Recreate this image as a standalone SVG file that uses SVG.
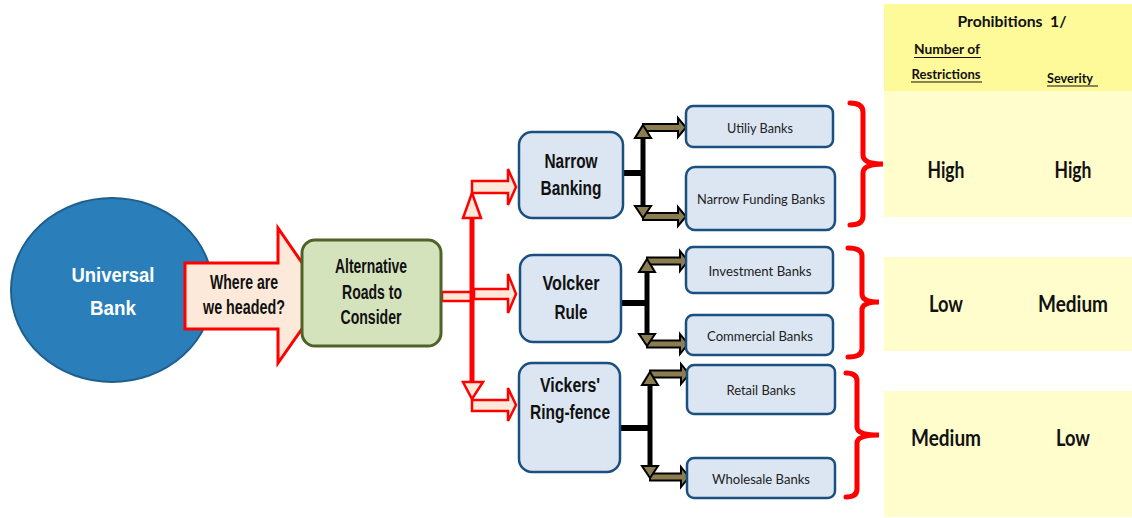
<svg xmlns="http://www.w3.org/2000/svg" width="1132" height="518" viewBox="0 0 1132 518">
<style>
.bx{fill:#DBE6F2;stroke:#1B4F80;stroke-width:2.5}
.nt{font-family:"Liberation Sans Narrow","Liberation Sans",Arial,sans-serif;font-weight:bold;font-size:20px;fill:#111;text-anchor:middle}
.st{font-family:Lato,"Open Sans",sans-serif;font-size:14px;fill:#222;text-anchor:middle}
.tt{font-family:Lato,"Open Sans",sans-serif;font-weight:bold;fill:#111;text-anchor:middle}
.rd{fill:#FDE9D9;stroke:#FF0000;stroke-width:2.5;stroke-linejoin:miter}
.bk{fill:#8B7D4F;stroke:#000;stroke-width:2;stroke-linejoin:miter}
.br{fill:none;stroke:#FF0000;stroke-width:5;stroke-linecap:round}
</style>
<rect width="1132" height="518" fill="#fff"/>

<g id="table">
<rect x="884" y="4" width="248" height="87" fill="#FFFA99"/>
<rect x="884" y="91" width="248" height="126" fill="#FFFDCC"/>
<rect x="884" y="257" width="248" height="94" fill="#FFFDCC"/>
<rect x="884" y="391" width="248" height="126" fill="#FFFDCC"/>
<text class="tt" x="1012" y="27" font-size="15" textLength="109" lengthAdjust="spacingAndGlyphs" xml:space="preserve">Prohibitions  1/</text>
<text class="tt" x="947" y="54" font-size="13" textLength="66" lengthAdjust="spacingAndGlyphs">Number of</text>
<line x1="914" y1="57.5" x2="981" y2="57.5" stroke="#111" stroke-width="1.2"/>
<text class="tt" x="946" y="79" font-size="13" textLength="69" lengthAdjust="spacingAndGlyphs">Restrictions</text>
<line x1="911" y1="82" x2="982" y2="82" stroke="#111" stroke-width="1.2"/>
<text class="tt" x="1070" y="83" font-size="13" textLength="46" lengthAdjust="spacingAndGlyphs">Severity</text>
<line x1="1047" y1="86" x2="1098" y2="86" stroke="#111" stroke-width="1.2"/>
<text class="tt" x="946" y="178" font-size="22" textLength="37" lengthAdjust="spacingAndGlyphs">High</text>
<text class="tt" x="1073" y="178" font-size="22" textLength="37" lengthAdjust="spacingAndGlyphs">High</text>
<text class="tt" x="946" y="312" font-size="22" textLength="34" lengthAdjust="spacingAndGlyphs">Low</text>
<text class="tt" x="1073" y="312" font-size="22" textLength="70" lengthAdjust="spacingAndGlyphs">Medium</text>
<text class="tt" x="946" y="446" font-size="22" textLength="70" lengthAdjust="spacingAndGlyphs">Medium</text>
<text class="tt" x="1073" y="446" font-size="22" textLength="34" lengthAdjust="spacingAndGlyphs">Low</text>
</g>

<g id="braces">
<path class="br" d="M850,103 Q863,103 863,112 V155 Q863,164 883,164 Q863,164 863,173 V216 Q863,225 850,225"/>
<path class="br" d="M848,248 Q862,248 862,256 V294 Q862,302 879,302 Q862,302 862,310 V349 Q862,357 848,357"/>
<path class="br" d="M846,373 Q857,373 857,381 V427 Q857,435 879,435 Q857,435 857,443 V489 Q857,497 846,497"/>
</g>

<g id="connectors">
<rect x="442" y="292" width="30" height="9" fill="#FDE9D9" stroke="#FF0000" stroke-width="2.5"/>
<rect x="469.5" y="212" width="5" height="176" fill="#FF0000"/>
<polygon class="rd" points="472,193 481,218 463,218"/>
<polygon class="rd" points="463,382 483,382 472,399"/>
<polygon class="rd" points="472,181 508,181 508,169 516,187 508,205 508,193 472,193"/>
<polygon class="rd" points="474,289 508,289 508,274 516,294 508,313 508,299 474,299"/>
<polygon class="rd" points="472,400 508,400 508,388 516,405 508,421 508,411 472,411"/>

<line x1="623" y1="173" x2="643" y2="173" stroke="#000" stroke-width="6"/>
<line x1="643" y1="134" x2="643" y2="212" stroke="#000" stroke-width="5"/>
<polygon class="bk" points="643,124 678,124 678,118 686,127.5 678,137 678,131 643,131"/>
<polygon class="bk" points="643,213 678,213 678,207 686,216.5 678,226 678,220 643,220"/>
<polygon class="bk" points="643,125 651,138 635,138"/>
<polygon class="bk" points="635,206 651,206 643,218"/>

<line x1="621" y1="303" x2="647" y2="303" stroke="#000" stroke-width="6"/>
<line x1="647" y1="268" x2="647" y2="340" stroke="#000" stroke-width="5"/>
<polygon class="bk" points="647,257.5 680,257.5 680,251 688,261 680,271 680,264.5 647,264.5"/>
<polygon class="bk" points="647,340.5 680,340.5 680,334 688,344 680,354 680,347.5 647,347.5"/>
<polygon class="bk" points="647,259 655,272 639,272"/>
<polygon class="bk" points="639,334 655,334 647,346"/>

<line x1="620" y1="428" x2="650" y2="428" stroke="#000" stroke-width="6"/>
<line x1="650" y1="382" x2="650" y2="472" stroke="#000" stroke-width="5"/>
<polygon class="bk" points="650,370.5 681,370.5 681,364 689,374 681,384 681,377.5 650,377.5"/>
<polygon class="bk" points="650,473.5 681,473.5 681,467 689,477 681,487 681,480.5 650,480.5"/>
<polygon class="bk" points="650,372 658,385 642,385"/>
<polygon class="bk" points="642,466 658,466 650,478"/>
</g>

<g id="universal-bank">
<ellipse cx="112" cy="290" rx="101" ry="92" fill="#2A7FBB" stroke="#1F5F8E" stroke-width="2"/>
<text class="nt" x="113" y="282" font-size="25" style="fill:#fff" textLength="83" lengthAdjust="spacingAndGlyphs">Universal</text>
<text class="nt" x="113" y="315" font-size="25" style="fill:#fff" textLength="46" lengthAdjust="spacingAndGlyphs">Bank</text>
</g>

<g id="where-headed">
<polygon points="185,263 278,263 278,228 325,296 278,363 278,329 185,329" fill="#FDE9D9" stroke="#FF0000" stroke-width="3" stroke-linejoin="miter"/>
<text class="nt" x="244" y="289" font-size="17" textLength="68" lengthAdjust="spacingAndGlyphs">Where are</text>
<text class="nt" x="244" y="314" font-size="17" textLength="82" lengthAdjust="spacingAndGlyphs">we headed?</text>
</g>

<g id="alternative">
<rect x="302" y="240" width="139" height="106" rx="13" fill="#D5E3BD" stroke="#4F6228" stroke-width="3"/>
<text class="nt" x="371" y="273" font-size="16.5" textLength="72" lengthAdjust="spacingAndGlyphs">Alternative</text>
<text class="nt" x="372" y="299" font-size="16.5" textLength="60" lengthAdjust="spacingAndGlyphs">Roads to</text>
<text class="nt" x="371" y="324" font-size="16.5" textLength="61" lengthAdjust="spacingAndGlyphs">Consider</text>
</g>

<g id="narrow-banking">
<rect class="bx" x="519" y="132" width="104" height="86" rx="13"/>
<text class="nt" x="571" y="168" textLength="53" lengthAdjust="spacingAndGlyphs">Narrow</text>
<text class="nt" x="571" y="195" textLength="61" lengthAdjust="spacingAndGlyphs">Banking</text>
</g>

<g id="volcker-rule">
<rect class="bx" x="520" y="255" width="101" height="87" rx="13"/>
<text class="nt" x="571" y="290" textLength="57" lengthAdjust="spacingAndGlyphs">Volcker</text>
<text class="nt" x="571" y="319" textLength="33" lengthAdjust="spacingAndGlyphs">Rule</text>
</g>

<g id="vickers">
<rect class="bx" x="519" y="363" width="101" height="109" rx="13"/>
<text class="nt" x="570" y="392" textLength="60" lengthAdjust="spacingAndGlyphs">Vickers'</text>
<text class="nt" x="570" y="419" textLength="80" lengthAdjust="spacingAndGlyphs">Ring-fence</text>
</g>

<g id="utility-banks">
<rect class="bx" x="686" y="106" width="147" height="41" rx="7"/>
<text class="st" x="760" y="133" textLength="66" lengthAdjust="spacingAndGlyphs">Utiliy Banks</text>
</g>
<g id="narrow-funding-banks">
<rect class="bx" x="686" y="167" width="149" height="63" rx="9"/>
<text class="st" x="761" y="204" textLength="128" lengthAdjust="spacingAndGlyphs">Narrow Funding Banks</text>
</g>
<g id="investment-banks">
<rect class="bx" x="686" y="247" width="147" height="46" rx="7"/>
<text class="st" x="760" y="276" textLength="103" lengthAdjust="spacingAndGlyphs">Investment Banks</text>
</g>
<g id="commercial-banks">
<rect class="bx" x="686" y="315" width="147" height="40" rx="7"/>
<text class="st" x="760" y="341" textLength="106" lengthAdjust="spacingAndGlyphs">Commercial Banks</text>
</g>
<g id="retail-banks">
<rect class="bx" x="687" y="365" width="148" height="49" rx="7"/>
<text class="st" x="761" y="395" textLength="69" lengthAdjust="spacingAndGlyphs">Retail Banks</text>
</g>
<g id="wholesale-banks">
<rect class="bx" x="687" y="458" width="148" height="40" rx="7"/>
<text class="st" x="761" y="484" textLength="98" lengthAdjust="spacingAndGlyphs">Wholesale Banks</text>
</g>
</svg>
